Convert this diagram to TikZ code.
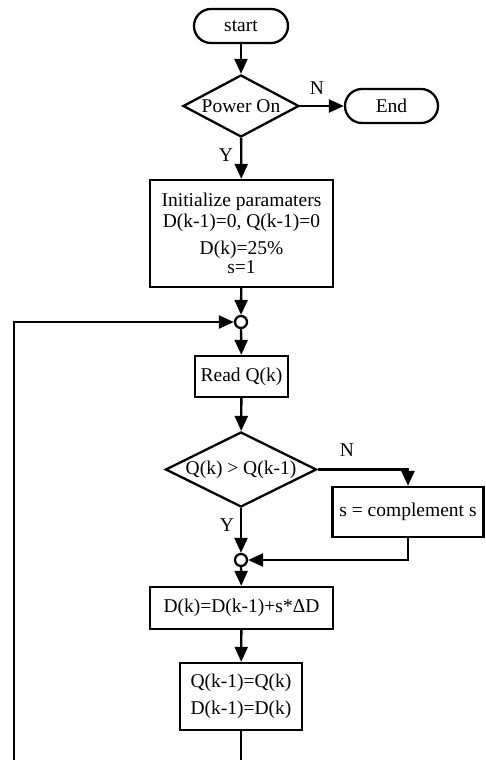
\documentclass[tikz,border=0pt]{standalone}
\usepackage{fontspec}
\setmainfont{Liberation Serif}
\usetikzlibrary{shapes.geometric,arrows.meta}
\begin{document}
\begin{tikzpicture}[x=1pt,y=-1pt,
  every node/.style={font=\fontsize{19.5}{21}\selectfont},
  base/.style={draw,line width=2.3pt,inner sep=0pt,align=center},
  term/.style={base,rectangle,rounded corners=17pt},
  proc/.style={base,rectangle},
  dec/.style={base,diamond},
  junc/.style={draw,line width=2.3pt,circle,fill=white,minimum size=12pt,inner sep=0pt},
  arr/.style={line width=2.3pt,-{Triangle[length=15pt,width=13pt]}},
  lbl/.style={inner sep=0pt}]
\useasboundingbox (0,0) rectangle (486,760);
\clip (0,0) rectangle (486,760);
\node[term,minimum width=94pt,minimum height=34pt] (start) at (241,26) {start};
\node[dec,minimum width=116pt,minimum height=62pt] (pw) at (241,106) {\makebox[0pt]{Power On}};
\node[term,minimum width=93pt,minimum height=34pt] (end) at (391.5,106) {End};
\node[proc,minimum width=183pt,minimum height=107pt] (init) at (241.5,233.5)
  {Initialize paramaters\\D(k-1)=0, Q(k-1)=0\\[6pt]D(k)=25\%\\[-2pt]s=1};
\node[junc] (j1) at (241,322) {};
\node[proc,minimum width=93pt,minimum height=41pt] (read) at (241.5,376.5) {Read Q(k)};
\node[dec,minimum width=151pt,minimum height=75pt] (cmp) at (241,469.5) {\makebox[0pt]{Q(k) \textgreater{} Q(k-1)}};
\node[proc,minimum width=151pt,minimum height=50pt] (sc) at (408,512) {s = complement s};
\node[junc] (j2) at (241,560) {};
\node[proc,minimum width=183pt,minimum height=42pt] (upd) at (241.5,608) {D(k)=D(k-1)+s*ΔD};
\node[proc,minimum width=122pt,minimum height=67pt,font=\fontsize{19.5}{27}\selectfont] (last) at (241,696.5) {Q(k-1)=Q(k)\\D(k-1)=D(k)};
\coordinate (loopB) at (241,790);
\coordinate (loopL) at (14,790);
\node[lbl] (n1) at (317,88) {N};
\node[lbl] (y1) at (226,155) {Y};
\node[lbl] (n2) at (347,450) {N};
\node[lbl] (y2) at (227,525) {Y};
\draw[arr] (start) -- (pw);
\draw[arr] (pw) -- (end);
\draw[arr] (pw) -- (init);
\draw[arr] (init) -- (j1);
\draw[arr] (j1) -- (read);
\draw[arr] (read) -- (cmp);
\draw[arr] (cmp.east) -| (sc.north);
\draw[arr] (cmp) -- (j2);
\draw[arr] (sc.south) |- (j2);
\draw[arr] (j2) -- (upd);
\draw[arr] (upd) -- (last);
\draw[arr] (last) -- (loopB) -- (loopL) |- (j1);
\end{tikzpicture}
\end{document}
